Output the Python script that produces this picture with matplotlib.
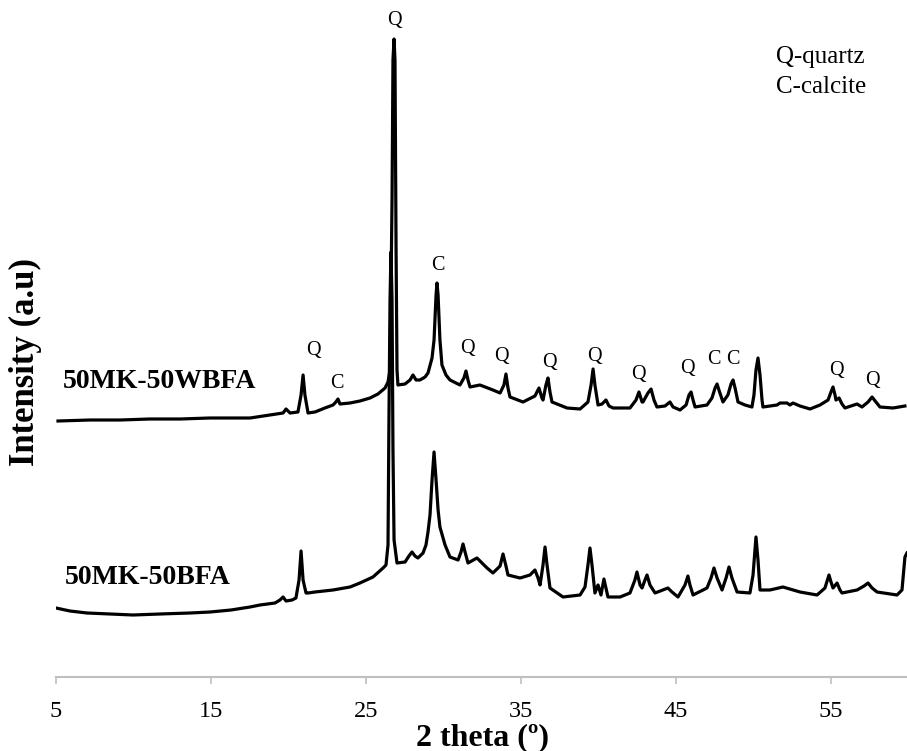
import matplotlib
matplotlib.use("Agg")
import matplotlib.pyplot as plt

plt.rcParams['font.family'] = ['Liberation Serif', 'DejaVu Serif']

# ---- 50MK-50WBFA (upper pattern): 2theta (deg), intensity (a.u.)
two_theta_wbfa = [5.13, 7.19, 9.13, 11.06, 13.0, 14.94, 17.52, 18.81, 19.65, 19.84, 20.10, 20.61, 20.81,
                  20.94, 21.06, 21.26, 21.71, 22.35, 22.87, 23.06, 23.19, 23.32, 23.97, 24.61, 25.26, 25.77,
                  26.23, 26.42, 26.55, 26.68, 26.74, 26.81, 26.87, 26.94, 27.0, 27.06, 27.52, 27.84, 28.03,
                  28.23, 28.48, 28.81, 29.0, 29.26, 29.39, 29.52, 29.58, 29.65, 29.77, 29.90, 30.16, 30.42,
                  31.06, 31.32, 31.45, 31.58, 31.71, 32.35, 33.19, 33.65, 33.90, 34.03, 34.16, 34.29, 35.13,
                  35.90, 36.16, 36.35, 36.42, 36.61, 36.74, 36.87, 37.0, 37.97, 38.81, 39.32, 39.52, 39.65,
                  39.77, 39.97, 40.23, 40.48, 40.68, 40.94, 42.03, 42.42, 42.61, 42.81, 42.87, 43.19, 43.39,
                  43.58, 43.77, 44.29, 44.61, 44.81, 45.26, 45.65, 45.84, 45.97, 46.10, 46.23, 47.0, 47.32,
                  47.52, 47.65, 47.77, 48.03, 48.35, 48.55, 48.68, 48.81, 49.0, 49.45, 49.90, 50.03, 50.16,
                  50.29, 50.42, 50.55, 50.61, 51.52, 51.71, 52.16, 52.35, 52.55, 53.0, 53.65, 54.29, 54.81,
                  55.0, 55.13, 55.26, 55.32, 55.52, 55.71, 55.90, 56.68, 57.0, 57.39, 57.65, 57.90, 58.16,
                  59.0, 59.77]
intensity_wbfa = [256, 257, 257, 258, 258, 259, 259, 262, 264, 268, 264, 265, 282,
                  302, 282, 264, 265, 269, 272, 275, 278, 273, 274, 276, 279, 283,
                  289, 295, 307, 477, 617, 638, 617, 427, 307, 292, 293, 297, 302,
                  297, 297, 300, 304, 319, 337, 382, 394, 382, 337, 312, 302, 297,
                  292, 299, 306, 297, 290, 292, 287, 284, 292, 303, 289, 280, 275,
                  281, 289, 279, 277, 292, 299, 285, 275, 269, 268, 275, 292, 308,
                  292, 272, 273, 277, 271, 269, 269, 277, 285, 275, 275, 284, 288,
                  277, 270, 271, 275, 270, 267, 272, 282, 285, 277, 270, 272, 279,
                  289, 293, 287, 275, 282, 293, 297, 289, 275, 272, 270, 282, 307,
                  319, 302, 277, 270, 272, 274, 274, 272, 274, 271, 268, 272, 277,
                  285, 290, 282, 277, 279, 273, 269, 273, 270, 275, 280, 275, 270,
                  269, 271]

# ---- 50MK-50BFA (lower pattern)
two_theta_bfa = [5.0, 5.90, 7.0, 8.48, 9.97, 11.71, 13.65, 14.94, 16.29, 17.52, 18.16, 19.13, 19.45,
                 19.65, 19.84, 20.23, 20.48, 20.68, 20.81, 20.94, 21.13, 21.26, 21.71, 22.87, 23.97, 24.61,
                 25.45, 26.10, 26.29, 26.42, 26.48, 26.55, 26.61, 26.68, 26.74, 26.81, 27.0, 27.52, 27.77,
                 27.97, 28.16, 28.35, 28.68, 28.87, 29.0, 29.13, 29.26, 29.39, 29.52, 29.65, 29.77, 30.10,
                 30.42, 30.94, 31.13, 31.26, 31.39, 31.58, 32.16, 32.81, 33.19, 33.65, 33.84, 34.03, 34.16,
                 34.94, 35.58, 35.90, 36.10, 36.23, 36.42, 36.55, 36.68, 36.87, 37.71, 38.81, 39.13, 39.32,
                 39.45, 39.58, 39.77, 39.97, 40.16, 40.35, 40.61, 41.39, 42.03, 42.35, 42.48, 42.68, 42.81,
                 43.0, 43.13, 43.32, 43.65, 44.16, 44.48, 44.74, 45.13, 45.58, 45.77, 45.90, 46.10, 47.0,
                 47.26, 47.45, 47.65, 47.97, 48.23, 48.42, 48.61, 48.94, 49.77, 49.97, 50.16, 50.29, 50.42,
                 51.06, 51.90, 53.0, 54.10, 54.61, 54.87, 55.0, 55.13, 55.39, 55.58, 55.71, 56.68, 57.13,
                 57.39, 57.65, 57.97, 58.81, 59.26, 59.58, 59.77, 59.90]
intensity_bfa = [69, 66, 64, 63, 62, 63, 64, 65, 67, 70, 72, 74, 77,
                 80, 76, 77, 79, 97, 126, 97, 84, 84, 85, 87, 90, 94,
                 100, 109, 112, 132, 257, 377, 425, 377, 227, 137, 114, 115, 121,
                 125, 121, 119, 124, 132, 145, 162, 197, 225, 197, 167, 150, 132,
                 120, 117, 125, 133, 125, 114, 119, 109, 104, 111, 123, 111, 102,
                 99, 102, 107, 99, 92, 112, 130, 112, 89, 80, 82, 90, 112,
                 129, 112, 84, 92, 82, 98, 80, 80, 84, 97, 105, 92, 89,
                 97, 102, 92, 84, 87, 89, 85, 80, 92, 101, 92, 82, 89,
                 99, 109, 99, 87, 99, 110, 99, 85, 84, 102, 140, 117, 87,
                 87, 90, 85, 82, 89, 102, 95, 89, 94, 87, 84, 87, 91,
                 94, 89, 85, 83, 82, 87, 120, 124]

# ---- phase labels above the upper pattern
peak_labels = ['Q', 'C', 'Q', 'C', 'Q', 'Q', 'Q', 'Q', 'Q', 'Q', 'C', 'C', 'Q', 'Q']
peak_label_2theta = [26.81, 29.65, 21.58, 23.13, 31.52, 33.77, 36.81, 39.71, 42.55, 45.77, 47.45, 48.68, 55.32, 57.65]
peak_label_intensity = [656, 411, 327, 294, 329, 320, 315, 320, 302, 308, 318, 318, 306, 297]

sample_names = ['50MK-50WBFA', '50MK-50BFA']
x_ticks = [5, 15, 25, 35, 45, 55]
legend_lines = ['Q-quartz', 'C-calcite']

fig = plt.figure(figsize=(9.07, 7.51), dpi=100)
ax = fig.add_axes([56 / 907, 74 / 751, 852.5 / 907, 677 / 751])

ax.plot(two_theta_wbfa, intensity_wbfa, color='black', lw=2.3, solid_joinstyle='round')
ax.plot(two_theta_bfa, intensity_bfa, color='black', lw=2.3, solid_joinstyle='round')

for t, x, y in zip(peak_labels, peak_label_2theta, peak_label_intensity):
    ax.text(x, y, t, ha='center', va='center', fontsize=14.5)

ax.text(5.45, 296, sample_names[0], ha='left', va='center', fontsize=20, fontweight='bold')
ax.text(5.58, 100, sample_names[1], ha='left', va='center', fontsize=20, fontweight='bold')

ax.text(51.45, 614, legend_lines[0], ha='left', va='baseline', fontsize=18)
ax.text(51.45, 584, legend_lines[1], ha='left', va='baseline', fontsize=18)

ax.set_xlim(5, 60)
ax.set_ylim(0, 677)
ax.set_xticks(x_ticks)
ax.set_yticks([])
for s in ['left', 'right', 'top']:
    ax.spines[s].set_visible(False)
ax.spines['bottom'].set_color('#bfbfbf')
ax.spines['bottom'].set_linewidth(1.5)
ax.tick_params(axis='x', direction='out', length=5, width=1.2, color='#bfbfbf',
               labelsize=17.5, pad=12)

fig.text(482 / 907, 1 - 738 / 751, '2 theta (º)', ha='center', va='center',
         fontsize=23, fontweight='bold')
fig.text(25 / 907, 1 - 362 / 751, 'Intensity (a.u)', ha='center', va='center',
         rotation=90, fontsize=25, fontweight='bold')

fig.savefig('out.png', dpi=100)
